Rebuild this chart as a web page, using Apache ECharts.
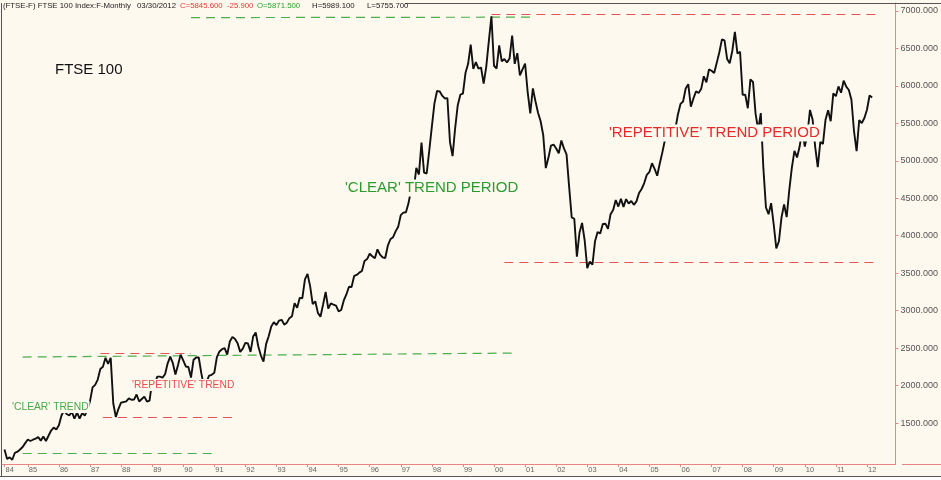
<!DOCTYPE html>
<html><head><meta charset="utf-8">
<script src="https://cdn.jsdelivr.net/npm/echarts@6.0.0/dist/echarts.min.js"></script>
<style>html,body{margin:0;padding:0;background:#fff}#c{width:941px;height:480px}</style>
</head><body><div id="c"></div>
<script>
// ---- DATA ----
const firstMonth = '1984-04';
const lastAxisMonth = '2012-12';
// FTSE 100 monthly closes, Apr 1984 .. Mar 2012
const closes = [
  1147, 1021, 1042, 1010, 1103, 1118, 1146, 1180, 1232,                  // 1984 (Apr-Dec)
  1280, 1260, 1277, 1291, 1314, 1265, 1320, 1260, 1330, 1400, 1440, 1413, // 1985
  1470, 1600, 1668, 1620, 1600, 1649, 1558, 1640, 1560, 1632, 1600, 1679, // 1986
  1790, 1975, 2010, 2080, 2220, 2250, 2370, 2290, 2370, 1760, 1580, 1690, // 1987
  1773, 1780, 1790, 1830, 1810, 1813, 1880, 1787, 1820, 1853, 1787, 1800, // 1988
  2052, 2024, 2120, 2119, 2106, 2151, 2297, 2387, 2299, 2147, 2276, 2413, // 1989
  2337, 2255, 2248, 2107, 2345, 2374, 2375, 2163, 1990, 2050, 2133, 2144, // 1990
  2170, 2380, 2456, 2486, 2499, 2414, 2588, 2650, 2621, 2566, 2450, 2493, // 1991
  2571, 2562, 2450, 2654, 2708, 2521, 2400, 2320, 2553, 2658, 2790, 2847, // 1992
  2807, 2868, 2878, 2813, 2840, 2900, 2927, 3100, 3038, 3171, 3166, 3418, // 1993
  3491, 3328, 3086, 3125, 2970, 2919, 3082, 3251, 3027, 3097, 3081, 3066, // 1994
  2991, 3009, 3137, 3216, 3320, 3315, 3463, 3477, 3508, 3529, 3664, 3689, // 1995
  3760, 3727, 3699, 3818, 3748, 3711, 3703, 3867, 3953, 3979, 4058, 4119, // 1996
  4275, 4308, 4313, 4436, 4621, 4604, 4907, 4817, 5244, 4842, 4831, 5136, // 1997
  5458, 5767, 5932, 5928, 5870, 5833, 5837, 5249, 5064, 5438, 5743, 5883, // 1998
  5896, 6175, 6296, 6552, 6226, 6319, 6231, 6246, 6030, 6255, 6598, 6930, // 1999
  6269, 6233, 6540, 6327, 6360, 6313, 6365, 6673, 6294, 6438, 6142, 6222, // 2000
  6297, 5918, 5634, 5967, 5796, 5643, 5529, 5345, 4903, 5040, 5204, 5217, // 2001
  5165, 5102, 5272, 5166, 5086, 4656, 4246, 4227, 3722, 4040, 4170, 3940, // 2002
  3567, 3656, 3613, 3926, 4049, 4031, 4157, 4161, 4091, 4288, 4343, 4477, // 2003
  4390, 4492, 4386, 4489, 4431, 4464, 4413, 4459, 4571, 4624, 4703, 4814, // 2004
  4852, 4968, 4894, 4801, 4964, 5113, 5282, 5296, 5478, 5317, 5423, 5619, // 2005
  5760, 5792, 5965, 6023, 5724, 5833, 5928, 5906, 5961, 6129, 6049, 6221, // 2006
  6203, 6172, 6308, 6449, 6621, 6608, 6360, 6303, 6467, 6722, 6432, 6457, // 2007
  5880, 5884, 5702, 6087, 6054, 5626, 5412, 5637, 4902, 4377, 4288, 4434, // 2008
  4150, 3830, 3926, 4244, 4418, 4249, 4608, 4909, 5134, 5045, 5191, 5413, // 2009
  5189, 5355, 5680, 5553, 5188, 4917, 5258, 5225, 5549, 5675, 5528, 5900, // 2010
  5863, 5994, 5909, 6070, 5990, 5946, 5815, 5395, 5128, 5544, 5505, 5572, // 2011
  5682, 5872, 5846                                                        // 2012 (Jan-Mar)
];
const yTicks = [1500, 2000, 2500, 3000, 3500, 4000, 4500, 5000, 5500, 6000, 6500, 7000];
const yMin = 953, yMax = 7107;

// dashed trend lines: [fromMonth, fromValue, toMonth, toValue]
const greenLines = [
  ['1990-04', 6912, '2001-03', 6918],
  ['1984-11', 2381, '2000-09', 2434],
  ['1984-11', 1097, '1991-01', 1101]
];
const redLines = [
  ['1999-12', 6960, '2012-05', 6960],
  ['2000-05', 3640, '2012-05', 3640],
  ['1987-05', 2434, '1990-04', 2434],
  ['1987-06', 1582, '1991-08', 1582]
];

const headerParts = [
  ['(FTSE-F) FTSE 100 Index:F-Monthly', 'k'], ['03/30/2012', 'k'],
  ['C=5845.600', 'r'], ['-25.900', 'r'], ['O=5871.500', 'g'],
  ['H=5989.100', 'k'], ['L=5755.700', 'k']
];

// ---- BUILD ----
const months = [];
{
  let y = +firstMonth.slice(0, 4), m = +firstMonth.slice(5, 7);
  const ey = +lastAxisMonth.slice(0, 4), em = +lastAxisMonth.slice(5, 7);
  while (y < ey || (y === ey && m <= em)) {
    months.push(y + '-' + String(m).padStart(2, '0'));
    m++; if (m > 12) { m = 1; y++; }
  }
}
const BG = '#fdf9ee';
const AXIS_RED = '#e98585';
const GREEN_DASH = '#4cae4c', RED_DASH = '#e35555';
const showYear = (i, v) => i === 0 || v.endsWith('-01');

function ml(arr) {
  return arr.map(a => [{ coord: [a[0], a[1]] }, { coord: [a[2], a[3]] }]);
}
function guideSeries(name, arr, color, w) {
  return {
    name: name, type: 'line', data: [], showSymbol: false, silent: true, z: 3,
    markLine: { silent: true, symbol: 'none', label: { show: false }, z: 3,
      emphasis: { disabled: true },
      lineStyle: { color: color, width: w, type: [9, 6], opacity: 1 },
      data: ml(arr) }
  };
}

const hdrX = [3, 137, 180, 227, 257, 312, 367];
const hdrCol = { k: '#222', r: '#e23a3a', g: '#2f9f2f' };
const graphics = [
  { type: 'rect', z: 1, silent: true, shape: { x: 0, y: 477, width: 941, height: 3 }, style: { fill: '#ffffff' } },
  { type: 'line', z: 1, silent: true, shape: { x1: 405, y1: 3.5, x2: 941, y2: 3.5 }, style: { stroke: '#555', lineWidth: 1 } },
  { type: 'line', z: 1, silent: true, shape: { x1: 1.5, y1: 3, x2: 1.5, y2: 477 }, style: { stroke: '#555', lineWidth: 1 } },
  { type: 'line', z: 1, silent: true, shape: { x1: 0, y1: 476.5, x2: 941, y2: 476.5 }, style: { stroke: '#555', lineWidth: 1 } },
  { type: 'line', z: 1, silent: true, shape: { x1: 1.5, y1: 464.5, x2: 5, y2: 464.5 }, style: { stroke: AXIS_RED, lineWidth: 1 } },
  { type: 'line', z: 1, silent: true, shape: { x1: 902, y1: 464.5, x2: 941, y2: 464.5 }, style: { stroke: AXIS_RED, lineWidth: 1 } },
  { type: 'text', z: 100, silent: true, style: { x: 55, y: 70, text: 'FTSE 100', fill: '#111', font: '15px "Liberation Sans", Arial, sans-serif', verticalAlign: 'middle' } },
  { type: 'text', z: 100, silent: true, style: { x: 343, y: 188, text: "'CLEAR' TREND PERIOD", fill: '#2e9a2e', font: '15px "Liberation Sans", Arial, sans-serif', verticalAlign: 'middle', backgroundColor: BG, padding: [1, 2, 1, 2] } },
  { type: 'text', z: 100, silent: true, style: { x: 607, y: 133, text: "'REPETITIVE' TREND PERIOD", fill: '#e62a2a', font: '15px "Liberation Sans", Arial, sans-serif', verticalAlign: 'middle', backgroundColor: BG, padding: [1, 2, 1, 2] } },
  { type: 'text', z: 100, silent: true, style: { x: 11, y: 407, text: "'CLEAR' TREND", fill: '#4aa84a', font: '10.3px "Liberation Sans", Arial, sans-serif', verticalAlign: 'middle', backgroundColor: BG, padding: [1, 1, 1, 1] } },
  { type: 'text', z: 100, silent: true, style: { x: 131, y: 385, text: "'REPETITIVE' TREND", fill: '#e64e4e', font: '10.3px "Liberation Sans", Arial, sans-serif', verticalAlign: 'middle', backgroundColor: BG, padding: [1, 1, 1, 1] } }
];
headerParts.forEach((p, i) => {
  graphics.push({ type: 'text', z: 100, silent: true, style: { x: hdrX[i], y: 6, text: p[0], fill: hdrCol[p[1]], font: '7.8px "Liberation Sans", Arial, sans-serif', verticalAlign: 'middle' } });
});

const chart = echarts.init(document.getElementById('c'), null, { renderer: 'canvas' });
chart.setOption({
  animation: false,
  backgroundColor: BG,
  grid: { left: 4.5, right: 39, top: 3, bottom: 16, containLabel: false },
  xAxis: {
    type: 'category', data: months, boundaryGap: false,
    axisLine: { show: true, lineStyle: { color: AXIS_RED, width: 1 } },
    axisTick: { show: true, interval: showYear, length: 3, lineStyle: { color: AXIS_RED } },
    axisLabel: { interval: showYear, formatter: v => v.slice(2, 4), align: 'left', margin: 2, padding: [0, 0, 0, 1], fontSize: 7.5, color: '#666', fontFamily: '"Liberation Sans", Arial, sans-serif' },
    splitLine: { show: false }
  },
  yAxis: {
    type: 'value', position: 'right', min: yMin, max: yMax, scale: true,
    axisLine: { show: true, lineStyle: { color: AXIS_RED, width: 1 } },
    axisTick: { show: true, length: 3, customValues: yTicks, lineStyle: { color: AXIS_RED } },
    axisLabel: { customValues: yTicks, formatter: v => Number(v).toFixed(3), margin: 5, fontSize: 9, color: '#555', fontFamily: '"Liberation Sans", Arial, sans-serif' },
    splitLine: { show: false }
  },
  series: [
    guideSeries('greenGuides', greenLines, GREEN_DASH, 1.2),
    guideSeries('redGuides', redLines, RED_DASH, 1),
    {
      name: 'FTSE 100', type: 'line', data: closes, showSymbol: false, symbol: 'none',
      lineStyle: { color: '#111', width: 1.9 }, z: 5
    }
  ],
  graphic: graphics
});
</script></body></html>
